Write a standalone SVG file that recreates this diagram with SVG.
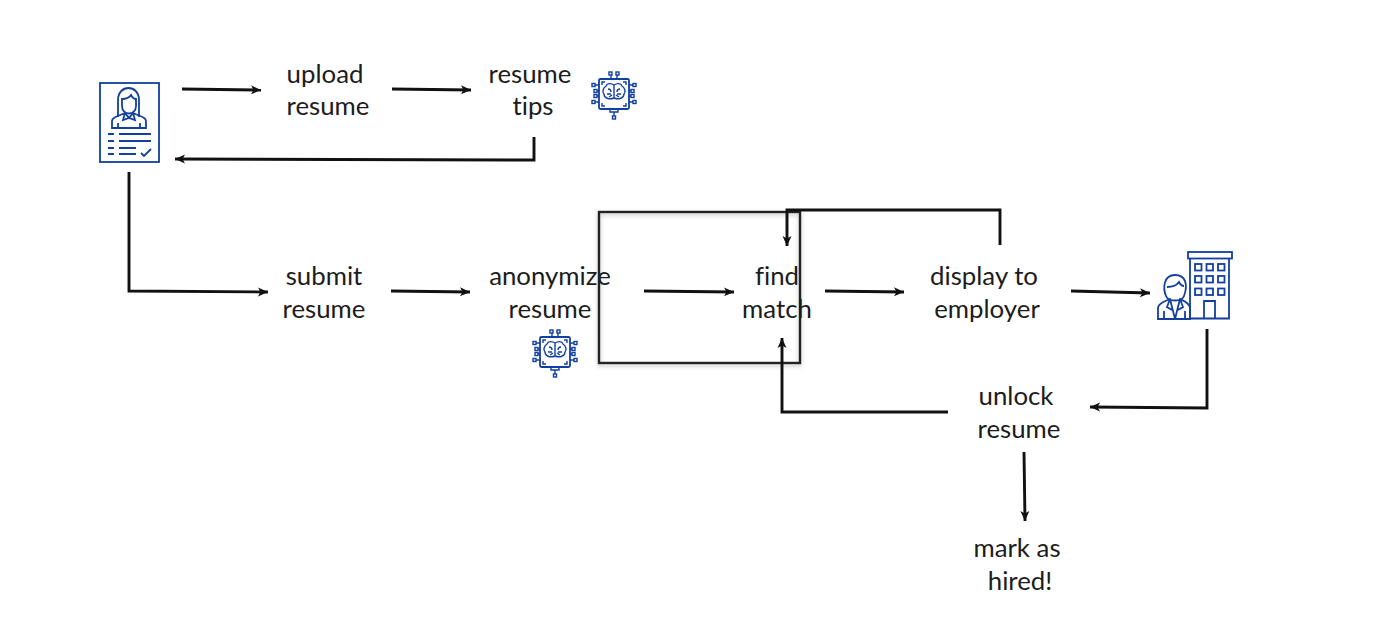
<svg xmlns="http://www.w3.org/2000/svg" width="1379" height="633" viewBox="0 0 1379 633">
<style>
text{font-family:"Lato","Liberation Sans",sans-serif;font-size:25.8px;fill:#1c1c1c;text-anchor:middle;font-variant-ligatures:none}
.c{fill:none;stroke:#111;stroke-width:2.9}
.i{fill:none;stroke:#123fa0;stroke-width:1.8}
.t{fill:none;stroke:#123fa0;stroke-width:1.4}
</style>
<defs>
<marker id="a" markerUnits="userSpaceOnUse" markerWidth="12" markerHeight="12" refX="10" refY="5" orient="auto"><path d="M0,0.500L10,5L0,9.500L2.500,5Z" fill="#111"/></marker>
<filter id="s" x="-5%" y="-5%" width="110%" height="110%"><feDropShadow dx="0" dy="2" stdDeviation="2" flood-color="#000" flood-opacity="0.25"/></filter>
<g id="chip">
<rect x="-15" y="-15" width="30" height="30" rx="1.500" class="i"/>
<path class="t" d="M-12,-9v-3h3M9,-12h3v3M12,9v3h-3M-9,12h-3v-3"/>
<path class="t" stroke-width="1.500" d="M0,-9c-3,-2 -7,-2 -8,1c-3,2 -4,6 -2,8c0,4 5,6 10,4c5,2 10,0 10,-4c2,-2 1,-6 -2,-8c-1,-3 -5,-3 -8,-1zM0,-9v13M-6,-5c2,0 3,1 3,3M6,-5c-2,0 -3,1 -3,3M-7,0h4M7,0h-4M-5,3l3,-2M5,3l-3,-2"/>
<path class="t" d="M-3,-15v-4M3,-15v-4M-15,-9h-4M-15,-3h-2M-15,2h-2M-15,8h-4M15,-9h4M15,-3h2M15,2h2M15,8h4M-4,15v3h8v-3M0,18v4"/>
<g class="t"><rect x="-5" y="-22" width="3" height="3"/><rect x="2" y="-22" width="3" height="3"/><rect x="-22" y="-10.500" width="3" height="3"/><rect x="-20" y="-4.500" width="3" height="3"/><rect x="-20" y="0.500" width="3" height="3"/><rect x="-22" y="6.500" width="3" height="3"/><rect x="19" y="-10.500" width="3" height="3"/><rect x="17" y="-4.500" width="3" height="3"/><rect x="17" y="0.500" width="3" height="3"/><rect x="19" y="6.500" width="3" height="3"/><rect x="-1.500" y="22" width="3" height="3"/></g>
</g>
</defs>
<g id="applicant">
<rect x="100" y="83" width="59" height="79" class="i"/>
<path class="i" d="M118,117v-17c0,-16 21,-16 21,0v17"/>
<path class="i" d="M122,99c4,0 7,-1 9,-4c1,2 3,4 5,4v7c0,10 -14,10 -14,0z"/>
<path class="i" d="M112,128v-7c0,-4 7,-5 13,-8l4,5l4,-5c6,3 13,4 13,8v7zM125,113l-2,7l6,-2l6,2l-2,-7M118,128v-5M140,128v-5"/>
<path class="i" d="M108,134h6M119,134h32M108,141h6M119,141h32M108,148h6M119,148h17M108,154h6M119,154h17M141,153l3,3l7,-7"/>
</g>
<g id="upload-resume"><text x="325" y="83">upload</text><text x="328" y="115">resume</text></g>
<g id="resume-tips"><text x="530" y="83">resume</text><text x="533" y="115">tips</text></g>
<use id="chip-top" href="#chip" x="614" y="94"/>
<g id="submit-resume"><text x="324" y="285">submit</text><text x="324" y="318">resume</text></g>
<g id="anonymize-resume"><text x="550" y="285">anonymize</text><text x="550" y="318">resume</text></g>
<use id="chip-bottom" href="#chip" x="555" y="352"/>
<rect id="box" x="599" y="212" width="201" height="151" fill="none" stroke="#222" stroke-width="2.400" filter="url(#s)"/>
<g id="find-match"><text x="777" y="285">find</text><text x="777" y="318">match</text></g>
<g id="display-to-employer"><text x="984" y="285">display to</text><text x="987" y="318">employer</text></g>
<g id="employer">
<rect x="1188" y="252" width="44" height="6.500" class="i"/>
<path class="i" d="M1190,258.500v60h39v-60M1204,318v-17h11v17"/>
<g class="i"><rect x="1195" y="264" width="6.500" height="6.500"/><rect x="1206.500" y="264" width="6.500" height="6.500"/><rect x="1218" y="264" width="6.500" height="6.500"/><rect x="1195" y="276" width="6.500" height="6.500"/><rect x="1206.500" y="276" width="6.500" height="6.500"/><rect x="1218" y="276" width="6.500" height="6.500"/><rect x="1195" y="288.500" width="6.500" height="6.500"/><rect x="1206.500" y="288.500" width="6.500" height="6.500"/><rect x="1218" y="288.500" width="6.500" height="6.500"/></g>
<path class="i" d="M1166,296c-3,-7 -3,-21 9,-21c11,0 13,10 9,21c-2,6 -16,6 -18,0z"/>
<path class="i" d="M1167,287c5,0 10,-2 12,-5c1,2 3,4 5,4"/>
<path class="i" d="M1158,319v-11c0,-5 8,-7 12,-9l5,20l5,-20c4,2 10,4 10,9v11zM1170,299l-3,8l5,3M1180,299l3,8l-5,3M1164,319v-8M1185,319v-8"/>
</g>
<g id="unlock-resume"><text x="1016" y="405">unlock</text><text x="1019" y="438">resume</text></g>
<g id="mark-as-hired"><text x="1017" y="557">mark as</text><text x="1020" y="590">hired!</text></g>
<g id="connectors">
<path class="c" marker-end="url(#a)" d="M182,89L261,90"/>
<path class="c" marker-end="url(#a)" d="M392,89L471,90"/>
<path class="c" marker-end="url(#a)" d="M534,137V160L175,159"/>
<path class="c" marker-end="url(#a)" d="M129,172V291L268,292"/>
<path class="c" marker-end="url(#a)" d="M391,291L470,292"/>
<path class="c" marker-end="url(#a)" d="M644,291L734,292"/>
<path class="c" marker-end="url(#a)" d="M825,291L904,292"/>
<path class="c" marker-end="url(#a)" d="M1071,291L1150,293"/>
<path class="c" marker-end="url(#a)" d="M1000,245V210L787,210V246"/>
<path class="c" marker-end="url(#a)" d="M1207,329V408L1090,407"/>
<path class="c" marker-end="url(#a)" d="M948,412L782,412V338"/>
<path class="c" marker-end="url(#a)" d="M1024,452L1025,521"/>
</g>
</svg>
